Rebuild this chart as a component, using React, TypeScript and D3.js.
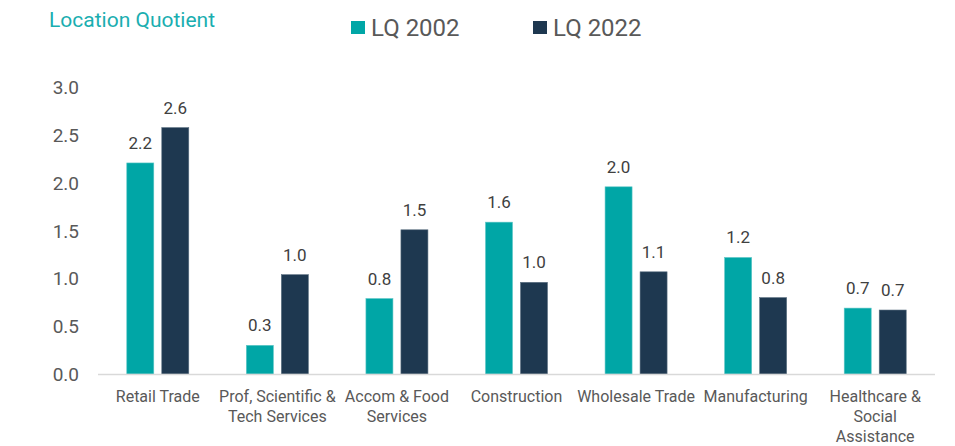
import React from "react";
import * as d3 from "d3";

const categories: string[][] = [
  ["Retail Trade"],
  ["Prof, Scientific &", "Tech Services"],
  ["Accom & Food", "Services"],
  ["Construction"],
  ["Wholesale Trade"],
  ["Manufacturing"],
  ["Healthcare &", "Social", "Assistance"],
];
const lq2002: number[] = [2.21, 0.3, 0.79, 1.59, 1.96, 1.22, 0.69];
const lq2022: number[] = [2.58, 1.04, 1.51, 0.96, 1.07, 0.8, 0.67];
const yTicks: number[] = [0, 0.5, 1, 1.5, 2, 2.5, 3];
const seriesNames: string[] = ["LQ 2002", "LQ 2022"];
const colors: string[] = ["#00A6A6", "#1E3850"];

const W = 955;
const H = 446;
const FONT = "Roboto, 'Open Sans', sans-serif";

export default function App() {
  const x0 = d3
    .scaleBand<number>()
    .domain(categories.map((_, i) => i))
    .range([98, 935])
    .paddingInner(0)
    .paddingOuter(0);
  const y = d3.scaleLinear().domain([0, 3]).range([374, 87.5]);
  const barW = 27;
  const gap = 8;
  const series = [lq2002, lq2022];

  return (
    <svg
      width={W}
      height={H}
      style={{ position: "absolute", left: 0, top: 0, background: "#fff" }}
      fontFamily={FONT}
    >
      <text x={49} y={27} fill="#1AAEB0" fontSize={21}>
        Location Quotient
      </text>
      {seriesNames.map((n, i) => {
        const lx = [351, 533][i];
        return (
          <g key={n}>
            <rect x={lx} y={21} width={14} height={13} fill={colors[i]} />
            <text x={lx + 20} y={35.5} fontSize={24} fill="#595959">
              {n}
            </text>
          </g>
        );
      })}
      {yTicks.map((t) => (
        <text
          key={t}
          x={79}
          y={y(t)}
          dy="0.36em"
          textAnchor="end"
          fontSize={19}
          fill="#595959"
        >
          {d3.format(".1f")(t)}
        </text>
      ))}
      {categories.map((c, i) => {
        const cx = (x0(i) as number) + x0.bandwidth() / 2;
        return (
          <g key={i}>
            {series.map((s, k) => {
              const bx = k === 0 ? cx - gap / 2 - barW : cx + gap / 2;
              const v = s[i];
              return (
                <g key={k}>
                  <rect
                    x={bx}
                    y={y(v)}
                    width={barW}
                    height={y(0) - y(v)}
                    fill={colors[k]}
                    stroke={k === 0 ? "#5cc6c6" : "#5a6f80"}
                    strokeWidth={0.6}
                  />
                  <text
                    x={bx + barW / 2}
                    y={y(v) - 14}
                    textAnchor="middle"
                    fontSize={17}
                    fill="#404040"
                  >
                    {d3.format(".1f")(v)}
                  </text>
                </g>
              );
            })}
            {c.map((line, j) => (
              <text
                key={j}
                x={cx}
                y={401.5 + j * 20}
                textAnchor="middle"
                fontSize={16}
                fill="#595959"
              >
                {line}
              </text>
            ))}
          </g>
        );
      })}
      <line x1={98} x2={935} y1={374.5} y2={374.5} stroke="#D9D9D9" strokeWidth={1.5} />
    </svg>
  );
}
